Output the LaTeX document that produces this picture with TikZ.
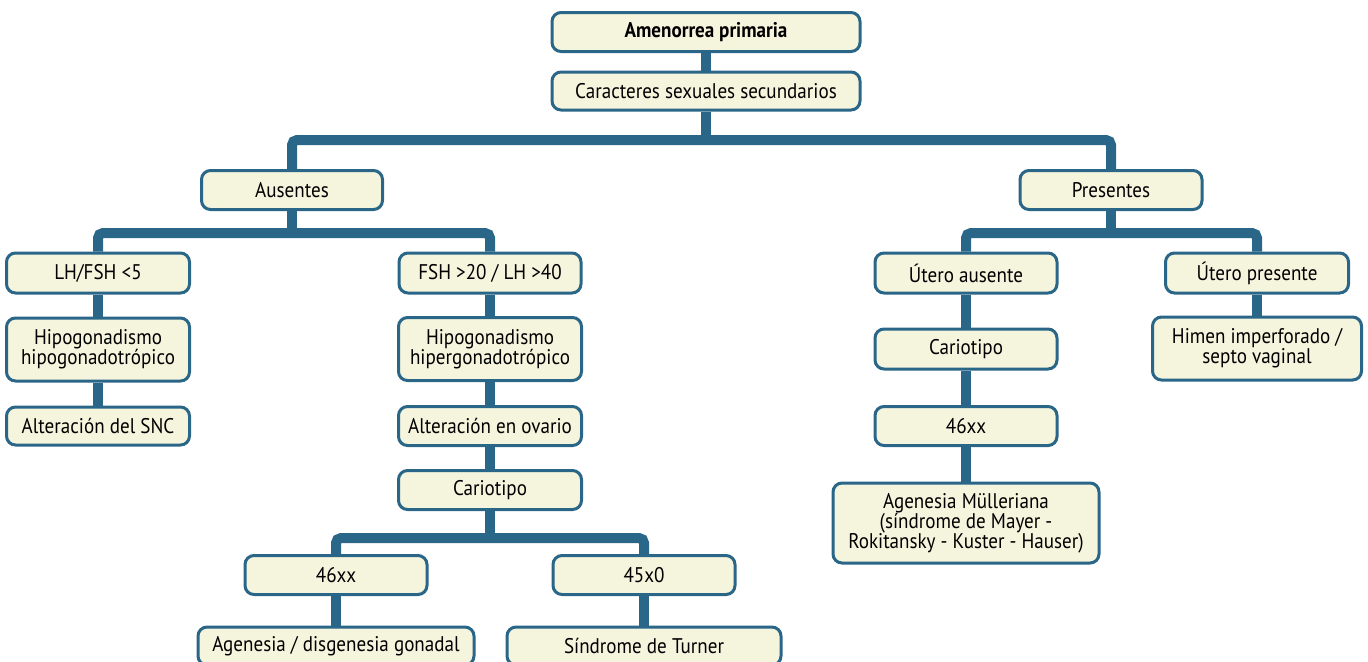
\documentclass[tikz,border=0pt]{standalone}
\usepackage{fontspec}
\setmainfont{PT Sans}[FakeStretch=0.9]
\usepackage{tikz}
\usetikzlibrary{positioning}
\definecolor{linkblue}{HTML}{2A6688}
\definecolor{boxcream}{HTML}{F5F4DD}
\tikzset{
  box/.style={draw=linkblue, line width=1.5pt, fill=boxcream, rounded corners=4.5pt,
    align=center, inner sep=1pt, font=\fontsize{10.6}{10}\selectfont},
  link/.style={draw=linkblue, line width=5pt, rounded corners=2.5pt}
}

\begin{document}
\begin{tikzpicture}[x=0.5pt,y=-0.5pt]
				\useasboundingbox (0,0) rectangle (1368,661);
				\node[box, minimum width=154pt, minimum height=19.5pt, font=\fontsize{10.6}{10}\selectfont\bfseries] (amen) at (706,32) {Amenorrea primaria};
				\node[box, minimum width=154pt, minimum height=19pt] (car) at (706,91) {Caracteres sexuales secundarios};
				\node[box, minimum width=90.5pt, minimum height=19.5pt] (aus) at (292,190) {Ausentes};
				\node[box, minimum width=91pt, minimum height=19.5pt] (pre) at (1111,190) {Presentes};
				\node[box, minimum width=91.5pt, minimum height=20pt] (lhf) at (98,273) {LH/FSH <5};
				\node[box, minimum width=91pt, minimum height=20pt] (fsh) at (490,273) {FSH >20 / LH >40};
				\node[box, minimum width=91.5pt, minimum height=31.5pt] (hipo) at (98,349.5) {Hipogonadismo\\hipogonadotrópico};
				\node[box, minimum width=91.5pt, minimum height=19pt] (snc) at (98,426) {Alteración del SNC};
				\node[box, minimum width=91.5pt, minimum height=31.5pt] (hiper) at (490,349) {Hipogonadismo\\hipergonadotrópico};
				\node[box, minimum width=91.5pt, minimum height=19.5pt] (ova) at (490,426) {Alteración en ovario};
				\node[box, minimum width=91.5pt, minimum height=19.5pt] (cariA) at (490,490) {Cariotipo};
				\node[box, minimum width=91pt, minimum height=19.5pt] (xxA) at (336,575) {46xx};
				\node[box, minimum width=91pt, minimum height=19.5pt] (xo) at (644,575) {45x0};
				\node[box, minimum width=138pt, minimum height=19pt] (agen) at (336,646) {Agenesia / disgenesia gonadal};
				\node[box, minimum width=137pt, minimum height=19pt] (turn) at (644,646) {Síndrome de Turner};
				\node[box, minimum width=91pt, minimum height=20pt] (utA) at (966,273) {Útero ausente};
				\node[box, minimum width=91pt, minimum height=20pt] (cariB) at (966,349) {Cariotipo};
				\node[box, minimum width=91pt, minimum height=19.5pt] (xxB) at (966,426) {46xx};
				\node[box, minimum width=133pt, minimum height=40pt] (mul) at (966,523) {Agenesia Mülleriana\\(síndrome de Mayer -\\Rokitansky - Kuster - Hauser)};
				\node[box, minimum width=91.5pt, minimum height=20pt] (utP) at (1257,273) {Útero presente};
				\node[box, minimum width=104.5pt, minimum height=31.5pt] (him) at (1257,348.5) {Himen imperforado /\\septo vaginal};
				\coordinate (j1) at (706,140);
				\coordinate (j2) at (292,233);
				\coordinate (j3) at (1111,233);
				\coordinate (j4) at (490,538);
				\draw[link] (amen) -- (car);
				\draw[link] (car) -- (j1);
				\draw[link] (aus) |- (j1) -| (pre);
				\draw[link] (aus) -- (j2);
				\draw[link] (lhf) |- (j2) -| (fsh);
				\draw[link] (lhf) -- (hipo);
				\draw[link] (hipo) -- (snc);
				\draw[link] (fsh) -- (hiper);
				\draw[link] (hiper) -- (ova);
				\draw[link] (ova) -- (cariA);
				\draw[link] (cariA) -- (j4);
				\draw[link] (xxA) |- (j4) -| (xo);
				\draw[link] (xxA) -- (agen);
				\draw[link] (xo) -- (turn);
				\draw[link] (pre) -- (j3);
				\draw[link] (utA) |- (j3) -| (utP);
				\draw[link] (utA) -- (cariB);
				\draw[link] (cariB) -- (xxB);
				\draw[link] (xxB) -- (mul);
				\draw[link] (utP) -- (him);
			\end{tikzpicture}
\end{document}
